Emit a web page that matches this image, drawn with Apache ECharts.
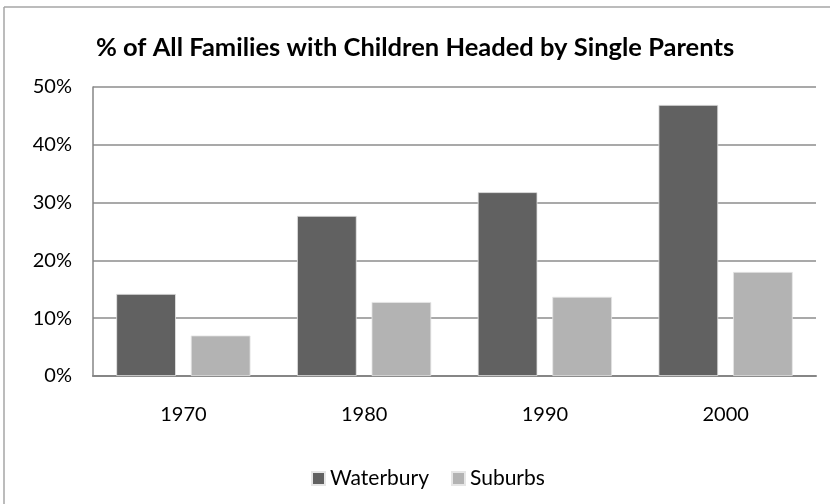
<!DOCTYPE html>
<html>
<head>
<meta charset="utf-8">
<script src="https://cdn.jsdelivr.net/npm/echarts@6/dist/echarts.min.js"></script>
<style>
html,body{margin:0;padding:0;background:#fff;}
#chart{width:830px;height:504px;}
</style>
</head>
<body>
<div id="chart"></div>
<script>
const categories = ['1970', '1980', '1990', '2000'];
const waterbury = [14.2, 27.7, 31.8, 46.9];
const suburbs = [7.0, 12.8, 13.7, 18.0];
const seriesNames = ['Waterbury', 'Suburbs'];
const titleText = '% of All Families with Children Headed by Single Parents';

const FONT = 'Lato';
const chart = echarts.init(document.getElementById('chart'), null, {renderer: 'canvas'});
chart.setOption({
  animation: false,
  backgroundColor: '#ffffff',
  title: {
    text: titleText,
    left: 'center',
    top: 30,
    textStyle: {fontFamily: FONT, fontWeight: 'bold', fontSize: 25.5, color: '#000'}
  },
  graphic: [
    {type: 'line', shape: {x1: 4, y1: 7, x2: 830, y2: 7}, style: {stroke: '#a6a6a6', lineWidth: 1.5}},
    {type: 'line', shape: {x1: 4, y1: 7, x2: 4, y2: 504}, style: {stroke: '#a6a6a6', lineWidth: 1.5}}
  ],
  legend: {
    data: seriesNames,
    left: 306,
    top: 463,
    itemWidth: 13,
    itemHeight: 13,
    itemGap: 22,
    icon: 'rect',
    textStyle: {fontFamily: FONT, fontSize: 21, color: '#000'}
  },
  grid: {left: 93, right: 14, top: 87, bottom: 128, containLabel: false},
  xAxis: {
    type: 'category',
    data: categories,
    axisLine: {lineStyle: {color: '#868686', width: 2}},
    axisTick: {show: false},
    axisLabel: {fontFamily: FONT, fontSize: 20, color: '#000', margin: 29}
  },
  yAxis: {
    type: 'value',
    min: 0,
    max: 50,
    interval: 10,
    axisLine: {show: true, lineStyle: {color: '#868686', width: 1.5}},
    axisTick: {show: false},
    splitLine: {lineStyle: {color: '#8c8c8c', width: 1.5}},
    axisLabel: {fontFamily: FONT, fontSize: 20, color: '#000', margin: 21, formatter: '{value}%'}
  },
  series: [
    {
      name: seriesNames[0], type: 'bar', data: waterbury,
      barWidth: '33%', barGap: '25%',
      itemStyle: {color: '#616161', borderColor: '#e6e6e6', borderWidth: 0.8}
    },
    {
      name: seriesNames[1], type: 'bar', data: suburbs,
      barWidth: '33%', barGap: '25%',
      itemStyle: {color: '#b3b3b3', borderColor: '#e6e6e6', borderWidth: 0.8}
    }
  ]
});
</script>
</body>
</html>
